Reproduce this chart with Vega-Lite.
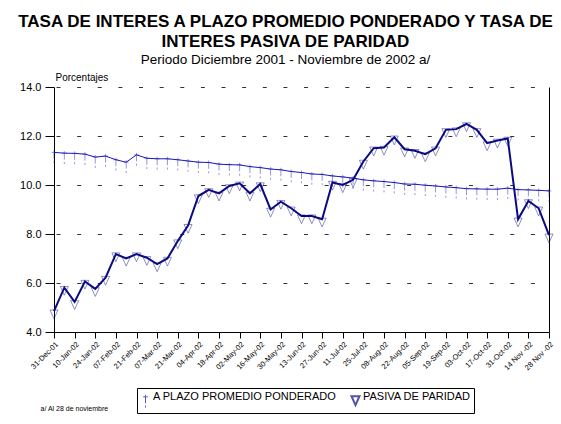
{
  "$schema": "https://vega.github.io/schema/vega-lite/v6.json",
  "width": 495,
  "height": 245,
  "autosize": {"type": "none"},
  "padding": {"left": 54, "top": 87, "right": 12, "bottom": 92},
  "background": "white",
  "title": {
    "text": ["TASA DE INTERES A PLAZO PROMEDIO PONDERADO Y TASA DE", "INTERES PASIVA DE PARIDAD"],
    "subtitle": "Periodo Diciembre 2001 - Noviembre de 2002 a/",
    "anchor": "middle",
    "frame": "group",
    "dx": -16,
    "offset": 5,
    "font": "Liberation Sans",
    "fontSize": 17,
    "fontWeight": "bold",
    "lineHeight": 20,
    "color": "black",
    "subtitleFont": "Liberation Sans",
    "subtitleFontSize": 13.5,
    "subtitleColor": "black",
    "subtitlePadding": 2
  },
  "data": {
    "values": [
      {"f": "31-Dec-01", "A PLAZO PROMEDIO PONDERADO": 11.33, "PASIVA DE PARIDAD": 4.85},
      {"f": "03-Jan-02", "A PLAZO PROMEDIO PONDERADO": 11.30, "PASIVA DE PARIDAD": 5.81},
      {"f": "10-Jan-02", "A PLAZO PROMEDIO PONDERADO": 11.29, "PASIVA DE PARIDAD": 5.23},
      {"f": "17-Jan-02", "A PLAZO PROMEDIO PONDERADO": 11.26, "PASIVA DE PARIDAD": 6.06},
      {"f": "24-Jan-02", "A PLAZO PROMEDIO PONDERADO": 11.14, "PASIVA DE PARIDAD": 5.76},
      {"f": "31-Jan-02", "A PLAZO PROMEDIO PONDERADO": 11.18, "PASIVA DE PARIDAD": 6.22},
      {"f": "07-Feb-02", "A PLAZO PROMEDIO PONDERADO": 11.03, "PASIVA DE PARIDAD": 7.18},
      {"f": "14-Feb-02", "A PLAZO PROMEDIO PONDERADO": 10.93, "PASIVA DE PARIDAD": 7.00},
      {"f": "21-Feb-02", "A PLAZO PROMEDIO PONDERADO": 11.23, "PASIVA DE PARIDAD": 7.18},
      {"f": "28-Feb-02", "A PLAZO PROMEDIO PONDERADO": 11.09, "PASIVA DE PARIDAD": 7.03},
      {"f": "07-Mar-02", "A PLAZO PROMEDIO PONDERADO": 11.07, "PASIVA DE PARIDAD": 6.77},
      {"f": "14-Mar-02", "A PLAZO PROMEDIO PONDERADO": 11.07, "PASIVA DE PARIDAD": 7.00},
      {"f": "21-Mar-02", "A PLAZO PROMEDIO PONDERADO": 11.03, "PASIVA DE PARIDAD": 7.71},
      {"f": "28-Mar-02", "A PLAZO PROMEDIO PONDERADO": 10.98, "PASIVA DE PARIDAD": 8.34},
      {"f": "04-Apr-02", "A PLAZO PROMEDIO PONDERADO": 10.93, "PASIVA DE PARIDAD": 9.55},
      {"f": "11-Apr-02", "A PLAZO PROMEDIO PONDERADO": 10.92, "PASIVA DE PARIDAD": 9.80},
      {"f": "18-Apr-02", "A PLAZO PROMEDIO PONDERADO": 10.85, "PASIVA DE PARIDAD": 9.66},
      {"f": "25-Apr-02", "A PLAZO PROMEDIO PONDERADO": 10.83, "PASIVA DE PARIDAD": 9.96},
      {"f": "02-May-02", "A PLAZO PROMEDIO PONDERADO": 10.82, "PASIVA DE PARIDAD": 10.07},
      {"f": "09-May-02", "A PLAZO PROMEDIO PONDERADO": 10.75, "PASIVA DE PARIDAD": 9.66},
      {"f": "16-May-02", "A PLAZO PROMEDIO PONDERADO": 10.71, "PASIVA DE PARIDAD": 10.04},
      {"f": "23-May-02", "A PLAZO PROMEDIO PONDERADO": 10.65, "PASIVA DE PARIDAD": 9.00},
      {"f": "30-May-02", "A PLAZO PROMEDIO PONDERADO": 10.62, "PASIVA DE PARIDAD": 9.32},
      {"f": "06-Jun-02", "A PLAZO PROMEDIO PONDERADO": 10.55, "PASIVA DE PARIDAD": 9.05},
      {"f": "13-Jun-02", "A PLAZO PROMEDIO PONDERADO": 10.51, "PASIVA DE PARIDAD": 8.73},
      {"f": "20-Jun-02", "A PLAZO PROMEDIO PONDERADO": 10.45, "PASIVA DE PARIDAD": 8.73},
      {"f": "27-Jun-02", "A PLAZO PROMEDIO PONDERADO": 10.43, "PASIVA DE PARIDAD": 8.60},
      {"f": "04-Jul-02", "A PLAZO PROMEDIO PONDERADO": 10.37, "PASIVA DE PARIDAD": 10.10},
      {"f": "11-Jul-02", "A PLAZO PROMEDIO PONDERADO": 10.33, "PASIVA DE PARIDAD": 10.00},
      {"f": "18-Jul-02", "A PLAZO PROMEDIO PONDERADO": 10.28, "PASIVA DE PARIDAD": 10.21},
      {"f": "25-Jul-02", "A PLAZO PROMEDIO PONDERADO": 10.21, "PASIVA DE PARIDAD": 10.96},
      {"f": "01-Aug-02", "A PLAZO PROMEDIO PONDERADO": 10.17, "PASIVA DE PARIDAD": 11.50},
      {"f": "08-Aug-02", "A PLAZO PROMEDIO PONDERADO": 10.14, "PASIVA DE PARIDAD": 11.53},
      {"f": "15-Aug-02", "A PLAZO PROMEDIO PONDERADO": 10.10, "PASIVA DE PARIDAD": 11.95},
      {"f": "22-Aug-02", "A PLAZO PROMEDIO PONDERADO": 10.04, "PASIVA DE PARIDAD": 11.46},
      {"f": "29-Aug-02", "A PLAZO PROMEDIO PONDERADO": 10.03, "PASIVA DE PARIDAD": 11.40},
      {"f": "05-Sep-02", "A PLAZO PROMEDIO PONDERADO": 9.99, "PASIVA DE PARIDAD": 11.26},
      {"f": "12-Sep-02", "A PLAZO PROMEDIO PONDERADO": 9.96, "PASIVA DE PARIDAD": 11.50},
      {"f": "19-Sep-02", "A PLAZO PROMEDIO PONDERADO": 9.92, "PASIVA DE PARIDAD": 12.25},
      {"f": "26-Sep-02", "A PLAZO PROMEDIO PONDERADO": 9.89, "PASIVA DE PARIDAD": 12.28},
      {"f": "03-Oct-02", "A PLAZO PROMEDIO PONDERADO": 9.85, "PASIVA DE PARIDAD": 12.49},
      {"f": "10-Oct-02", "A PLAZO PROMEDIO PONDERADO": 9.84, "PASIVA DE PARIDAD": 12.25},
      {"f": "17-Oct-02", "A PLAZO PROMEDIO PONDERADO": 9.83, "PASIVA DE PARIDAD": 11.71},
      {"f": "24-Oct-02", "A PLAZO PROMEDIO PONDERADO": 9.83, "PASIVA DE PARIDAD": 11.82},
      {"f": "31-Oct-02", "A PLAZO PROMEDIO PONDERADO": 9.87, "PASIVA DE PARIDAD": 11.90},
      {"f": "07-Nov-02", "A PLAZO PROMEDIO PONDERADO": 9.81, "PASIVA DE PARIDAD": 8.60},
      {"f": "14 Nov -02", "A PLAZO PROMEDIO PONDERADO": 9.80, "PASIVA DE PARIDAD": 9.35},
      {"f": "21-Nov-02", "A PLAZO PROMEDIO PONDERADO": 9.78, "PASIVA DE PARIDAD": 9.05},
      {"f": "28 Nov -02", "A PLAZO PROMEDIO PONDERADO": 9.76, "PASIVA DE PARIDAD": 7.95}
    ]
  },
  "transform": [
    {"fold": ["A PLAZO PROMEDIO PONDERADO", "PASIVA DE PARIDAD"], "as": ["serie", "valor"]}
  ],
  "encoding": {
    "x": {
      "field": "f",
      "type": "ordinal",
      "sort": null,
      "scale": {"type": "point", "padding": 0},
      "axis": {
        "values": ["31-Dec-01", "10-Jan-02", "24-Jan-02", "07-Feb-02", "21-Feb-02", "07-Mar-02", "21-Mar-02", "04-Apr-02", "18-Apr-02", "02-May-02", "16-May-02", "30-May-02", "13-Jun-02", "27-Jun-02", "11-Jul-02", "25-Jul-02", "08-Aug-02", "22-Aug-02", "05-Sep-02", "19-Sep-02", "03-Oct-02", "17-Oct-02", "31-Oct-02", "14 Nov -02", "28 Nov -02"],
        "labelAngle": -45,
        "labelAlign": "right",
        "labelBaseline": "top",
        "labelFontSize": 7.5,
        "labelPadding": 2,
        "labelColor": "black",
        "tickSize": 6,
        "grid": false,
        "title": "a/ Al  28  de noviembre",
        "titleAnchor": "start",
        "titleAlign": "left",
        "titleBaseline": "middle",
        "titleX": -14,
        "titleY": 76,
        "titleFontSize": 7,
        "titleFontWeight": "normal",
        "titleColor": "black"
      }
    },
    "y": {
      "field": "valor",
      "type": "quantitative",
      "scale": {"domain": [4, 14], "nice": false, "zero": false}
    },
    "color": {
      "field": "serie",
      "type": "nominal",
      "scale": {"domain": ["A PLAZO PROMEDIO PONDERADO", "PASIVA DE PARIDAD"], "range": ["#1a1ab4", "#0a0a82"]},
      "legend": {
        "title": null,
        "orient": "none",
        "legendX": 83,
        "legendY": 301,
        "direction": "horizontal",
        "strokeColor": "black",
        "padding": 3,
        "labelFontSize": 11,
        "labelColor": "black",
        "labelLimit": 300,
        "symbolSize": 64,
        "symbolStrokeWidth": 1.2,
        "columnPadding": 10,
        "labelOffset": 2
      }
    }
  },
  "layer": [
    {
      "mark": {"type": "line"},
      "encoding": {
        "y": {
          "field": "valor",
          "type": "quantitative",
          "scale": {"domain": [4, 14], "nice": false, "zero": false},
          "axis": {
            "values": [4, 6, 8, 10, 12, 14],
            "format": ".1f",
            "grid": true,
            "gridDash": [4, 16.625],
            "gridDashOffset": 18.6,
            "gridColor": "#333333",
            "gridOpacity": 1,
            "tickSize": 9,
            "labelFontSize": 11,
            "labelPadding": 4,
            "labelColor": "black",
            "title": "Porcentajes",
            "titleAngle": 0,
            "titleAlign": "left",
            "titleBaseline": "bottom",
            "titleX": 1,
            "titleY": -5,
            "titleFontSize": 10,
            "titleFontWeight": "normal",
            "titleColor": "black"
          }
        },
        "strokeWidth": {
          "field": "serie",
          "type": "nominal",
          "scale": {"domain": ["A PLAZO PROMEDIO PONDERADO", "PASIVA DE PARIDAD"], "range": [1, 2]},
          "legend": null
        }
      }
    },
    {
      "mark": {"type": "point", "filled": false, "strokeWidth": 1, "strokeOpacity": 0.65},
      "encoding": {
        "y": {
          "field": "valor",
          "type": "quantitative",
          "scale": {"domain": [4, 14], "nice": false, "zero": false},
          "axis": {
            "orient": "right",
            "labels": false,
            "ticks": false,
            "grid": false,
            "domain": true,
            "title": null
          }
        },
        "shape": {
          "field": "serie",
          "type": "nominal",
          "scale": {
            "domain": ["A PLAZO PROMEDIO PONDERADO", "PASIVA DE PARIDAD"],
            "range": ["M-0.6,0L0.6,0M0,-0.5L0,1.6M0,2.2L0,2.7", "M-1,-0.3L1,-0.3L0,1.9Z"]
          }
        },
        "size": {"value": 64}
      }
    }
  ],
  "resolve": {"axis": {"y": "independent"}},
  "config": {
    "font": "Liberation Sans",
    "view": {"stroke": null},
    "axis": {
      "domainColor": "black",
      "tickColor": "black",
      "labelFont": "Liberation Sans",
      "titleFont": "Liberation Sans"
    },
    "legend": {"labelFont": "Liberation Sans"}
  }
}
